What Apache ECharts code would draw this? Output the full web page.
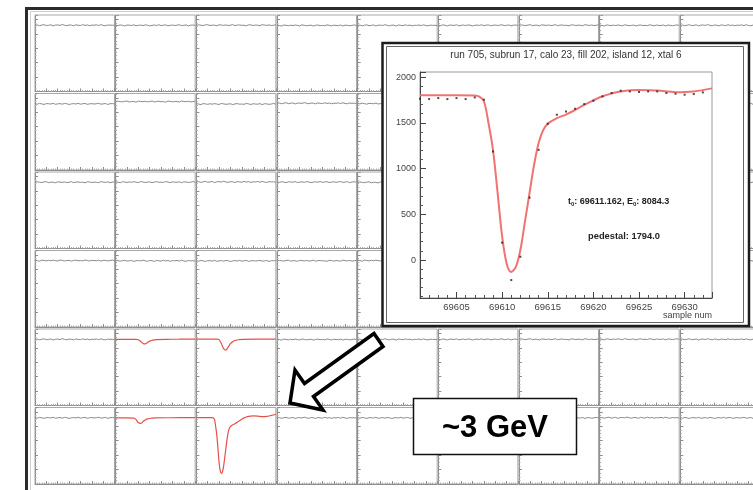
<!DOCTYPE html>
<html>
<head>
<meta charset="utf-8">
<script src="https://cdn.jsdelivr.net/npm/echarts@6/dist/echarts.min.js"></script>
<style>
  html, body { margin: 0; padding: 0; background: #fff; }
  #chart { width: 753px; height: 490px; }
</style>
</head>
<body>
<div id="chart"></div>
<script>
// ---- Zoomed waveform: run 705, subrun 17, calo 23, fill 202, island 12, xtal 6 ----
const sampleNum = [69601, 69602, 69603, 69604, 69605, 69606, 69607, 69608, 69609, 69610,
                   69611, 69612, 69613, 69614, 69615, 69616, 69617, 69618, 69619, 69620,
                   69621, 69622, 69623, 69624, 69625, 69626, 69627, 69628, 69629, 69630,
                   69631, 69632];
const adcCounts = [1763, 1759, 1770, 1759, 1770, 1759, 1777, 1752, 1186, 190,
                   -219, 36, 682, 1204, 1489, 1588, 1624, 1653, 1704, 1741,
                   1788, 1825, 1850, 1843, 1836, 1843, 1843, 1825, 1818, 1807,
                   1814, 1832];
const fitSample = [69601, 69603, 69605, 69607, 69607.5, 69608, 69608.5, 69609, 69609.5, 69610,
                   69610.5, 69611, 69611.5, 69612, 69612.5, 69613, 69613.5, 69614, 69614.5, 69615,
                   69616, 69617, 69618, 69619, 69620, 69621, 69622, 69623, 69625, 69627,
                   69629, 69631, 69633];
const fitValue  = [1800, 1800, 1800, 1798, 1785, 1735, 1500, 1200, 740, 260,
                   -40, -130, -75, 110, 420, 730, 1040, 1280, 1420, 1490,
                   1550, 1590, 1640, 1695, 1745, 1790, 1820, 1843, 1858, 1852,
                   1835, 1843, 1876];
const insetTitle = 'run 705, subrun 17, calo 23, fill 202, island 12, xtal 6';
const fitT0 = '69611.162';
const fitE0 = '8084.3';
const pedestal = '1794.0';

// ---- Calorimeter display: 6 rows x 9 crystals, samples 0..35 per crystal ----
const samples = [0,1,2,3,4,5,6,7,8,9,10,11,12,13,14,15,16,17,18,19,20,21,22,23,24,25,26,27,28,29,30,31,32,33,34,35];
const noiseA = [0,10,-15,5,20,-10,0,15,-20,5,10,-5,25,0,-15,10,5,-20,15,0,-10,20,-5,10,-15,5,0,15,-10,20,-5,-15,10,0,5,-10];
const noiseB = [5,-10,15,0,-20,10,5,-5,20,-15,0,10,-10,15,5,-20,0,10,-5,20,-10,5,15,-15,0,10,-5,5,20,-10,0,15,-20,5,10,0];
const noiseC = [-5,15,0,-10,10,20,-15,5,0,-20,15,5,-5,10,-10,0,20,-15,5,10,-5,0,-20,15,10,-10,5,0,-15,20,5,-5,10,-10,0,15];
const noiseD = [10,0,-20,15,5,-10,10,-5,15,0,-15,20,5,-10,0,10,-20,5,15,-5,0,-10,20,5,-15,10,0,-5,15,-20,10,5,-10,0,20,-5];
const noisePatterns = [noiseA, noiseB, noiseC, noiseD];
// pedestal level of every crystal (row by row); null = crystal with a pulse
const pedestals = [
  [1795, 1792, 1796, 1788, 1790, 1792, 1794, 1790, 1793],
  [1790, 1870, 1785, 1810, 1800, 1795, 1790, 1792, 1794],
  [1795, 1798, 1805, 1800, 1790, 1794, 1792, 1796, 1790],
  [1800, 1792, 1790, 1794, 1800, 1795, 1790, 1792, 1794],
  [1790, null, null, 1785, 1788, 1790, 1792, 1794, 1790],
  [1792, null, null, 1790, 1790, 1792, 1790, 1794, 1790]
];
// crystals with a hit (fitted waveforms)
const hitR5C2x = [0, 5, 9, 10, 11, 12, 13, 14, 15, 16, 17, 18, 22, 28, 35];
const hitR5C2y = [1788, 1790, 1790, 1780, 1720, 1650, 1635, 1680, 1730, 1760, 1775, 1785, 1792, 1796, 1800];
const hitR5C3x = [0, 5, 9, 10, 11, 12, 13, 14, 15, 16, 17, 18, 19, 20, 26, 35];
const hitR5C3y = [1800, 1800, 1798, 1780, 1650, 1470, 1420, 1520, 1640, 1710, 1750, 1770, 1780, 1790, 1798, 1800];
const hitR6C2x = [0, 4, 8, 9, 10, 11, 12, 13, 14, 15, 16, 17, 24, 35];
const hitR6C2y = [1792, 1792, 1785, 1730, 1620, 1600, 1660, 1720, 1755, 1770, 1780, 1790, 1795, 1798];
const hitR6C3x = [0, 3, 5, 7, 7.5, 8, 8.5, 9, 9.5, 10, 10.5, 11, 11.5, 12, 12.5, 13, 13.5, 14, 14.5, 15,
                  16, 17, 18, 19, 20, 21, 22, 23, 25, 27, 29, 31, 33, 35];
const hitR6C3y = [1800, 1800, 1800, 1798, 1785, 1735, 1500, 1200, 740, 260, -40, -130, -75, 110, 420, 730, 1040, 1280, 1420, 1490,
                  1550, 1590, 1640, 1695, 1745, 1790, 1820, 1843, 1858, 1852, 1835, 1843, 1876, 1910];
const hits = {
  '4-1': [hitR5C2x, hitR5C2y],
  '4-2': [hitR5C3x, hitR5C3y],
  '5-1': [hitR6C2x, hitR6C2y],
  '5-2': [hitR6C3x, hitR6C3y]
};
const energyNote = '~3 GeV';

// ---- layout ----
const PAD = { x0: 35, dx: 80.67, w: 79.5, y0: 15, dy: 78.5, h: 76.5 };
const INSET = { left: 420, top: 72, width: 292, height: 226 };
const FONT = '"Liberation Sans", Arial, Helvetica, sans-serif';
const padGray = '#8e8e8e';

const zip = (xs, ys) => xs.map((x, i) => [x, ys[i]]);
const plain = v => String(v);

const grids = [], xAxes = [], yAxes = [], series = [];

for (let r = 0; r < pedestals.length; r++) {
  for (let c = 0; c < pedestals[r].length; c++) {
    const idx = grids.length;
    grids.push({
      left: PAD.x0 + c * PAD.dx, top: PAD.y0 + r * PAD.dy,
      width: PAD.w, height: PAD.h,
      containLabel: false, outerBoundsMode: 'none',
      show: true, borderColor: '#a8a8a8', borderWidth: 1, backgroundColor: 'transparent', z: 1
    });
    xAxes.push({
      gridIndex: idx, type: 'value', min: 0, max: 35, interval: 5, z: 1,
      axisLine: { show: true, onZero: false, lineStyle: { color: padGray, width: 1 } },
      axisTick: { show: true, inside: true, length: 3, lineStyle: { color: padGray } },
      minorTick: { show: true, splitNumber: 5, length: 1.5, lineStyle: { color: '#b0b0b0' } },
      axisLabel: { show: false }, splitLine: { show: false }
    });
    yAxes.push({
      gridIndex: idx, type: 'value', min: -500, max: 2150, interval: 500, z: 1,
      axisLine: { show: true, onZero: false, lineStyle: { color: padGray, width: 1 } },
      axisTick: { show: true, inside: true, length: 3, lineStyle: { color: padGray } },
      minorTick: { show: true, splitNumber: 4, length: 1.5, lineStyle: { color: '#b0b0b0' } },
      axisLabel: { show: false }, splitLine: { show: false }
    });
    const key = r + '-' + c;
    let data, color, width;
    if (hits[key]) {
      data = zip(hits[key][0], hits[key][1]);
      color = '#e5504b'; width = 1.2;
    } else {
      const noise = noisePatterns[(r * 9 + c) % noisePatterns.length];
      data = samples.map((s, i) => [s, pedestals[r][c] + noise[i]]);
      color = '#8a8a8a'; width = 1;
    }
    series.push({
      type: 'line', xAxisIndex: idx, yAxisIndex: idx, data,
      showSymbol: false, smooth: hits[key] ? 0.3 : false, z: 2,
      lineStyle: { color, width }, silent: true, animation: false
    });
  }
}

// inset plot
const ii = grids.length;
grids.push({
  left: INSET.left, top: INSET.top, width: INSET.width, height: INSET.height,
  containLabel: false, outerBoundsMode: 'none',
  show: true, borderColor: '#9a9a9a', borderWidth: 1, backgroundColor: '#fff', z: 11
});
xAxes.push({
  gridIndex: ii, type: 'value', min: 69601, max: 69633, z: 12,
  axisLine: { show: true, onZero: false, lineStyle: { color: '#444', width: 1 } },
  axisTick: { show: true, inside: true, length: 6, lineStyle: { color: '#444' } },
  minorTick: { show: true, splitNumber: 5, length: 3, lineStyle: { color: '#555' } },
  axisLabel: { color: '#444', fontSize: 9.5, fontFamily: FONT, margin: 4, formatter: plain,
               showMinLabel: false, showMaxLabel: false },
  splitLine: { show: false }
});
yAxes.push({
  gridIndex: ii, type: 'value', min: -415, max: 2055, z: 12,
  axisLine: { show: true, onZero: false, lineStyle: { color: '#444', width: 1 } },
  axisTick: { show: true, inside: true, length: 6, lineStyle: { color: '#444' } },
  minorTick: { show: true, splitNumber: 5, length: 3, lineStyle: { color: '#555' } },
  axisLabel: { color: '#444', fontSize: 9, fontFamily: FONT, margin: 4, formatter: plain,
               showMinLabel: false, showMaxLabel: false },
  splitLine: { show: false }
});
series.push({
  type: 'line', xAxisIndex: ii, yAxisIndex: ii, data: zip(fitSample, fitValue),
  showSymbol: false, smooth: 0.35, z: 12, silent: true, animation: false,
  lineStyle: { color: '#f07272', width: 2 }
});
series.push({
  type: 'scatter', xAxisIndex: ii, yAxisIndex: ii, data: zip(sampleNum, adcCounts),
  symbol: 'rect', symbolSize: 2, z: 13, silent: true, animation: false,
  itemStyle: { color: '#222' }
});

const graphic = [
  // canvas frame
  { type: 'rect', z: 30, silent: true, shape: { x: 26.5, y: 8.5, width: 800, height: 520 },
    style: { fill: 'none', stroke: '#2b2b2b', lineWidth: 3 } },
  { type: 'rect', z: 30, silent: true, shape: { x: 30.5, y: 11.5, width: 800, height: 520 },
    style: { fill: 'none', stroke: '#cfcfcf', lineWidth: 1 } },
  // inset canvas
  { type: 'rect', z: 10, silent: true, shape: { x: 382.5, y: 43, width: 366.5, height: 283 },
    style: { fill: '#fff', stroke: '#1c1c1c', lineWidth: 2.5 } },
  { type: 'rect', z: 10, silent: true, shape: { x: 386.5, y: 46.5, width: 357, height: 276 },
    style: { fill: 'none', stroke: '#666', lineWidth: 1 } },
  { type: 'text', z: 14, silent: true, x: 566, y: 55,
    style: { text: insetTitle, fill: '#333', font: '10px ' + FONT, align: 'center', verticalAlign: 'middle' } },
  { type: 'text', z: 14, silent: true, x: 568, y: 202,
    style: {
      text: '{a|t}{s|0}{a|: ' + fitT0 + ', E}{s|0}{a|: ' + fitE0 + '}',
      align: 'left', verticalAlign: 'middle',
      rich: {
        a: { font: 'bold 9px ' + FONT, fill: '#222' },
        s: { font: 'bold 6px ' + FONT, fill: '#222', padding: [5, 0, 0, 0] }
      }
    } },
  { type: 'text', z: 14, silent: true, x: 624, y: 236,
    style: { text: 'pedestal: ' + pedestal, fill: '#222', font: 'bold 9.3px ' + FONT, align: 'center', verticalAlign: 'middle' } },
  { type: 'text', z: 14, silent: true, x: 712, y: 316,
    style: { text: 'sample num', fill: '#444', font: '9px ' + FONT, align: 'right', verticalAlign: 'middle' } },
  // arrow pointing at the hit crystals
  { type: 'polygon', z: 40, silent: true,
    shape: { points: [[290, 403], [323, 410], [313.5, 396.5], [383, 346.5], [374, 333.5], [304.5, 383.5], [295, 370]] },
    style: { fill: '#fff', stroke: '#000', lineWidth: 3.5, lineJoin: 'miter' } },
  // energy note
  { type: 'rect', z: 40, silent: true, shape: { x: 413.5, y: 398.5, width: 163, height: 56 },
    style: { fill: '#fff', stroke: '#111', lineWidth: 1.5 } },
  { type: 'text', z: 41, silent: true, x: 495, y: 428,
    style: { text: energyNote, fill: '#000', font: 'bold 31px ' + FONT, align: 'center', verticalAlign: 'middle' } }
];

const chart = echarts.init(document.getElementById('chart'), null, { renderer: 'canvas' });
chart.setOption({
  animation: false,
  backgroundColor: '#fff',
  grid: grids, xAxis: xAxes, yAxis: yAxes, series, graphic
});
</script>
</body>
</html>
